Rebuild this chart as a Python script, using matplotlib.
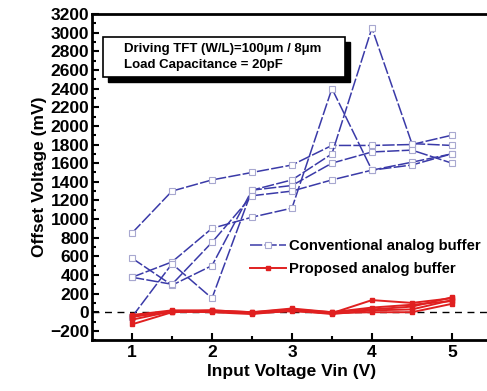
import numpy as np
import matplotlib.pyplot as plt

vin = [1, 1.5, 2, 2.5, 3, 3.5, 4, 4.5, 5]

# conventional analog buffer (mV), one list per sample
conv_1 = [850, 1300, 1420, 1500, 1580, 1790, 1790, 1800, 1900]
conv_2 = [580, 290, 500, 1310, 1420, 1700, 3050, 1810, 1790]
conv_3 = [375, 540, 900, 1020, 1117, 2400, 1525, 1610, 1700]
conv_4 = [-50, 520, 150, 1310, 1360, 1600, 1720, 1740, 1600]
conv_5 = [375, 300, 750, 1250, 1300, 1420, 1525, 1580, 1700]

# proposed analog buffer (mV)
prop_1 = [-130, 0, 10, -10, 20, -10, 130, 100, 150]
prop_2 = [-30, 20, 20, 0, 40, 0, 50, 80, 120]
prop_3 = [-50, 10, 0, -20, 20, -20, 20, 30, 130]
prop_4 = [-80, 10, 10, -10, 10, -10, 0, 0, 90]
prop_5 = [-40, 0, 20, 0, 30, 0, 30, 60, 160]

conv = [conv_1, conv_2, conv_3, conv_4, conv_5]
prop = [prop_1, prop_2, prop_3, prop_4, prop_5]

plt.rcParams['font.family'] = ['Liberation Sans', 'DejaVu Sans']
plt.rcParams['font.weight'] = 'bold'

fig = plt.figure(figsize=(4.87, 3.91), dpi=100)
ax = fig.add_axes([0.189, 0.130, 0.821, 0.834])

ax.axhline(0, color='black', lw=1.0, ls=(0, (5, 4)), zorder=1)

blue = '#3a3aa8'
for i, s in enumerate(conv):
    ax.plot(vin, s, color=blue, lw=1.1, ls=(0, (8, 1.5)), marker='s', ms=4,
            mfc='white', mec='#a8a8d0', mew=0.8,
            label='Conventional analog buffer' if i == 0 else None, zorder=2)

red = '#e02020'
for i, s in enumerate(prop):
    ax.plot(vin, s, color=red, lw=1.4, marker='s', ms=3.5, mfc=red, mec=red,
            label='Proposed analog buffer' if i == 0 else None, zorder=3)

ax.set_xlim(0.5, 5.5)
ax.set_ylim(-300, 3200)
ax.set_xticks([1, 2, 3, 4, 5])
ax.set_xticks(np.arange(1.5, 5.5, 1.0), minor=True)
ax.set_yticks(np.arange(-200, 3201, 200))
ax.set_yticks(np.arange(-300, 3201, 100), minor=True)
ax.tick_params(which='both', direction='in', width=1.5, labelsize=12.5)
ax.tick_params(which='major', length=5)
ax.tick_params(which='minor', length=3)
ax.tick_params(axis='y', pad=2)
for sp in ax.spines.values():
    sp.set_linewidth(2.0)

ax.set_xlabel('Input Voltage Vin (V)', fontsize=12.5, fontweight='bold', labelpad=3)
ax.set_ylabel('Offset Voltage (mV)', fontsize=12.5, fontweight='bold', labelpad=2)

# info box with drop shadow
ax.add_patch(plt.Rectangle((0.70, 2475), 3.02, 430, color='black', zorder=4))
ax.add_patch(plt.Rectangle((0.64, 2523), 3.02, 430, fc='white', ec='black',
                           lw=1.2, zorder=5))
ax.text(0.90, 2738, 'Driving TFT (W/L)=100\u03bcm / 8\u03bcm\nLoad Capacitance = 20pF',
        fontsize=9.5, fontweight='bold', va='center', ha='left', linespacing=1.45,
        zorder=6)

ax.legend(loc='upper left', bbox_to_anchor=(0.395, 0.31), frameon=False,
          fontsize=10.7, handlelength=2.4, handletextpad=0.2, labelspacing=0.6,
          borderaxespad=0.0, borderpad=0.0)

fig.savefig('out.png', dpi=100)
